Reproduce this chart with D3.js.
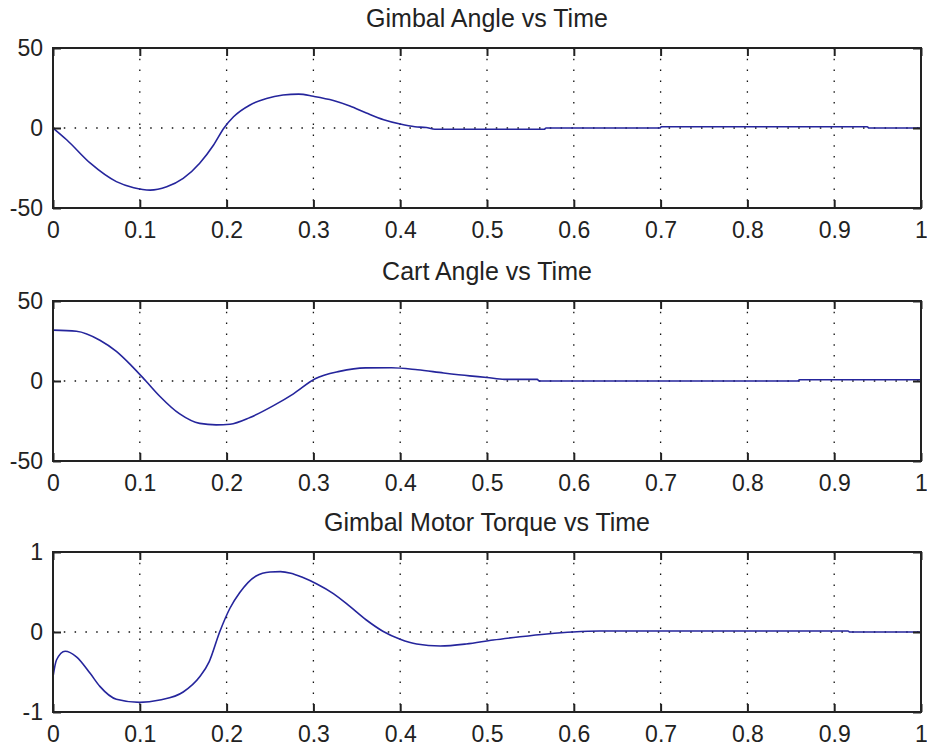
<!DOCTYPE html>
<html>
<head>
<meta charset="utf-8">
<script src="https://cdn.jsdelivr.net/npm/d3@7"></script>
<style>
  html, body { margin: 0; padding: 0; background: #fff; }
  svg { display: block; }
  .tick text { font-family: "Liberation Sans", Arial, sans-serif; font-size: 23px; fill: #222; }
  .title { font-family: "Liberation Sans", Arial, sans-serif; font-size: 25px; fill: #222; }
  .grid line { stroke: #111; stroke-width: 1.3; stroke-dasharray: 1.5 9.3; }
</style>
</head>
<body>
<div id="chart"></div>
<script>
const timeTicks = [0, 0.1, 0.2, 0.3, 0.4, 0.5, 0.6, 0.7, 0.8, 0.9, 1];
const timeTickLabels = ["0", "0.1", "0.2", "0.3", "0.4", "0.5", "0.6", "0.7", "0.8", "0.9", "1"];

const titles = ["Gimbal Angle vs Time", "Cart Angle vs Time", "Gimbal Motor Torque vs Time"];
const yDomains = [[-50, 50], [-50, 50], [-1, 1]];
const yTicks = [[-50, 0, 50], [-50, 0, 50], [-1, 0, 1]];
const yTickLabels = [["-50", "0", "50"], ["-50", "0", "50"], ["-1", "0", "1"]];

// [time, value]
const gimbalAngle = [
  [0, 0], [0.016, -7.5], [0.043, -22], [0.073, -33.5], [0.093, -37.3],
  [0.112, -38.8], [0.131, -36.7], [0.15, -31.5], [0.169, -22], [0.185, -10.6],
  [0.197, 0], [0.208, 7], [0.227, 14.4], [0.246, 18.5], [0.265, 20.6],
  [0.283, 21.2], [0.3, 19.8], [0.323, 17.2], [0.342, 13.75], [0.361, 9.4],
  [0.381, 5.2], [0.4, 2.5], [0.417, 0.8], [0.43, 0.3], [0.44, -0.8],
  [0.566, -0.8], [0.568, 0], [0.699, 0], [0.701, 0.8], [0.938, 0.8],
  [0.94, 0], [1, 0]
];

const cartAngle = [
  [0, 31.8], [0.027, 31.1], [0.054, 25.5], [0.073, 18.5], [0.09, 9.8],
  [0.107, 0], [0.123, -9.5], [0.146, -20.6], [0.169, -26.5], [0.188, -27.4],
  [0.204, -27], [0.227, -22.8], [0.254, -15.4], [0.277, -8], [0.302, 1.4],
  [0.33, 6], [0.36, 8.2], [0.39, 8.3], [0.42, 7], [0.45, 5],
  [0.48, 3.2], [0.5, 2.2], [0.52, 1], [0.558, 1], [0.56, 0],
  [0.858, 0], [0.86, 0.8], [1, 0.8]
];

const motorTorque = [
  [0, -0.56], [0.004, -0.35], [0.014, -0.24], [0.027, -0.31], [0.043, -0.52],
  [0.054, -0.68], [0.073, -0.84], [0.1, -0.88], [0.123, -0.85], [0.15, -0.75],
  [0.169, -0.56], [0.18, -0.37], [0.192, 0], [0.204, 0.3], [0.215, 0.49],
  [0.234, 0.7], [0.25, 0.75], [0.262, 0.755], [0.274, 0.735], [0.288, 0.68],
  [0.304, 0.6], [0.323, 0.48], [0.342, 0.32], [0.361, 0.15], [0.38, 0.01],
  [0.4, -0.09], [0.419, -0.15], [0.446, -0.175], [0.476, -0.15], [0.507, -0.1],
  [0.538, -0.06], [0.569, -0.025], [0.599, 0], [0.63, 0.012], [0.916, 0.012],
  [0.918, 0], [1, 0]
];

const seriesList = [gimbalAngle, cartAngle, motorTorque];

const width = 927;
const height = 753;
const plotLeft = 53;
const plotWidth = 868;
const plotHeight = 160;
const plotTops = [48, 301, 552];

const svg = d3.select("#chart")
  .append("svg")
  .attr("width", width)
  .attr("height", height);

const x = d3.scaleLinear().domain([0, 1]).range([0, plotWidth]);

seriesList.forEach((series, i) => {
  const g = svg.append("g")
    .attr("transform", `translate(${plotLeft},${plotTops[i]})`);

  const y = d3.scaleLinear().domain(yDomains[i]).range([plotHeight, 0]);

  // dotted grid on interior ticks
  const grid = g.append("g").attr("class", "grid");
  grid.selectAll(".gx")
    .data(timeTicks.slice(1, -1))
    .join("line")
    .attr("x1", (d) => x(d))
    .attr("x2", (d) => x(d))
    .attr("y1", 0)
    .attr("y2", plotHeight);
  grid.selectAll(".gy")
    .data(yTicks[i].slice(1, -1))
    .join("line")
    .attr("class", "gy")
    .attr("x1", 0)
    .attr("x2", plotWidth)
    .attr("y1", (d) => y(d))
    .attr("y2", (d) => y(d));

  const line = d3.line()
    .x((d) => x(d[0]))
    .y((d) => y(d[1]))
    .curve(d3.curveMonotoneX);

  g.append("path")
    .datum(series)
    .attr("fill", "none")
    .attr("stroke", "#25259c")
    .attr("stroke-width", 1.6)
    .attr("d", line);

  const tickLen = 8;

  const bottom = g.append("g")
    .attr("transform", `translate(0,${plotHeight})`)
    .call(d3.axisBottom(x)
      .tickValues(timeTicks)
      .tickFormat((d, k) => timeTickLabels[k])
      .tickSizeInner(-tickLen)
      .tickSizeOuter(0)
      .tickPadding(14));

  const top = g.append("g")
    .call(d3.axisTop(x)
      .tickValues(timeTicks)
      .tickFormat("")
      .tickSizeInner(-tickLen)
      .tickSizeOuter(0));

  const left = g.append("g")
    .call(d3.axisLeft(y)
      .tickValues(yTicks[i])
      .tickFormat((d, k) => yTickLabels[i][k])
      .tickSizeInner(-tickLen)
      .tickSizeOuter(0)
      .tickPadding(10));

  const right = g.append("g")
    .attr("transform", `translate(${plotWidth},0)`)
    .call(d3.axisRight(y)
      .tickValues(yTicks[i])
      .tickFormat("")
      .tickSizeInner(-tickLen)
      .tickSizeOuter(0));

  [bottom, top, left, right].forEach((a) => {
    a.select(".domain").remove();
    a.selectAll(".tick line").attr("stroke", "#222").attr("stroke-width", 2);
  });

  g.append("rect")
    .attr("x", 0)
    .attr("y", 0)
    .attr("width", plotWidth)
    .attr("height", plotHeight)
    .attr("fill", "none")
    .attr("stroke", "#222")
    .attr("stroke-width", 2);

  g.append("text")
    .attr("class", "title")
    .attr("x", plotWidth / 2)
    .attr("y", -21)
    .attr("text-anchor", "middle")
    .text(titles[i]);
});
</script>
</body>
</html>
